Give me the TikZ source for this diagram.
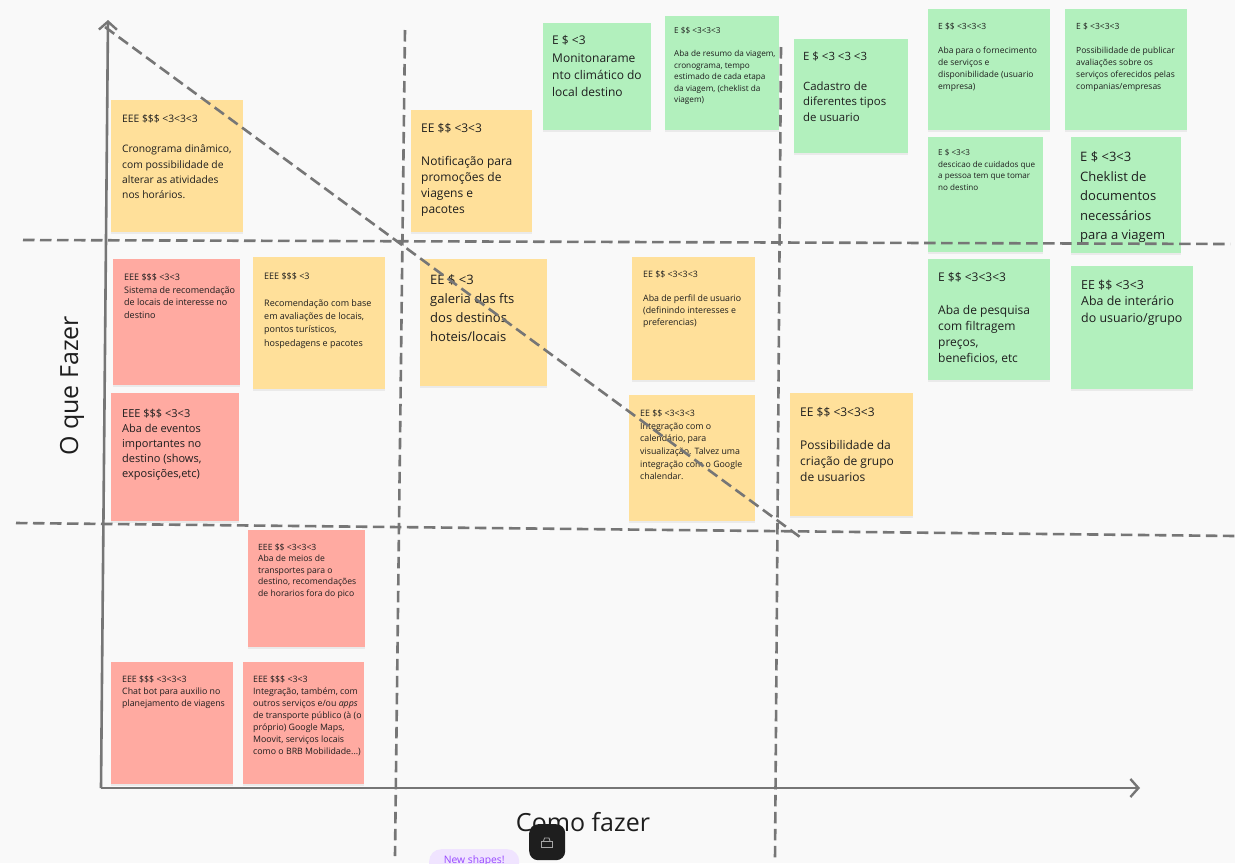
\documentclass[tikz,border=0pt]{standalone}
\usepackage{fontspec}
\setmainfont{Open Sans}
\usetikzlibrary{arrows.meta,shadows}
\definecolor{boardbg}{HTML}{F9F9F9}
\definecolor{notey}{HTML}{FFE09A}
\definecolor{noteg}{HTML}{B2F0BD}
\definecolor{noter}{HTML}{FFAAA1}
\definecolor{linegray}{HTML}{767676}
\definecolor{inkdark}{HTML}{1E1E1E}
\definecolor{pillbg}{HTML}{F0E4FF}
\definecolor{pillink}{HTML}{9747FF}
\tikzset{
  sticky/.style={anchor=north west,inner sep=0,outer sep=0,
    drop shadow={shadow xshift=0pt,shadow yshift=-2pt,opacity=0.06,fill=black}},
  yellownote/.style={sticky,fill=notey},
  greennote/.style={sticky,fill=noteg},
  rednote/.style={sticky,fill=noter},
  txt/.style 2 args={anchor=north west,inner sep=0,align=left,text=inkdark,yshift=-1.5pt,
    font=\fontsize{#1}{#2}\selectfont},
  dashline/.style={linegray,line width=2.6pt,dash pattern=on 11.5pt off 5.5pt},
  axisline/.style={linegray,line width=2.6pt,-{Straight Barb[length=8pt,width=18pt,line width=2.4pt]}},
}
\begin{document}
\begin{tikzpicture}[x=1pt,y=-1pt]
  \useasboundingbox (0,0) rectangle (1235,863);
  \fill[boardbg] (0,0) rectangle (1235,863);

  % yellow notes
  \node[yellownote,minimum width=132pt,minimum height=132pt] (cronograma) at (111,100) {};
  \node[txt={10.3}{15.2}] (cronogramatxt) at (122,113) {EEE \$\$\$ <3<3<3\\[15.2pt]Cronograma dinâmico,\\com possibilidade de\\alterar as atividades\\nos horários.};
  \node[yellownote,minimum width=121pt,minimum height=122pt] (notificacao) at (411,110) {};
  \node[txt={12}{16.1}] (notificacaotxt) at (421,122) {EE \$\$ <3<3\\[16.1pt]Notificação para\\promoções de\\viagens e\\pacotes};
  \node[yellownote,minimum width=132pt,minimum height=132pt] (recomendacao) at (253,257) {};
  \node[txt={9}{13.3}] (recomendacaotxt) at (264,271) {EEE \$\$\$ <3\\[13.3pt]Recomendação com base\\em avaliações de locais,\\pontos turísticos,\\hospedagens e pacotes};
  \node[yellownote,minimum width=127pt,minimum height=127pt] (galeria) at (420,259) {};
  \node[txt={13}{19}] (galeriatxt) at (430,273) {EE \$ <3\\galeria das fts\\dos destinos\\hoteis/locais};
  \node[yellownote,minimum width=123pt,minimum height=123pt] (perfil) at (632,257) {};
  \node[txt={8.8}{12}] (perfiltxt) at (643,269) {EE \$\$ <3<3<3\\[12pt]Aba de perfil de usuario\\(definindo interesses e\\preferencias)};
  \node[yellownote,minimum width=126pt,minimum height=126pt] (integracao) at (629,395) {};
  \node[txt={8.8}{12.7}] (integracaotxt) at (640,408) {EE \$\$ <3<3<3\\Integração com o\\calendário, para\\visualização. Talvez uma\\integração com o Google\\chalendar.};
  \node[yellownote,minimum width=123pt,minimum height=123pt] (grupo) at (790,393) {};
  \node[txt={12}{16.2}] (grupotxt) at (800,406) {EE \$\$ <3<3<3\\[16.2pt]Possibilidade da\\criação de grupo\\de usuarios};

  % green notes
  \node[greennote,minimum width=108pt,minimum height=107pt] (clima) at (543,23) {};
  \node[txt={12}{17.2}] (climatxt) at (552,34) {E \$ <3\\Monitonarame\\nto climático do\\local destino};
  \node[greennote,minimum width=114pt,minimum height=114pt] (resumo) at (665,16) {};
  \node[txt={8.2}{11.5}] (resumotxt) at (674,26) {E \$\$ <3<3<3\\[11.5pt]Aba de resumo da viagem,\\cronograma, tempo\\estimado de cada etapa\\da viagem, (cheklist da\\viagem)};
  \node[greennote,minimum width=114pt,minimum height=114pt] (cadastro) at (794,39) {};
  \node[txt={11.4}{15.2}] (cadastrotxt) at (803,50) {E \$ <3 <3 <3\\[15.2pt]Cadastro de\\diferentes tipos\\de usuario};
  \node[greennote,minimum width=122pt,minimum height=121pt] (fornecimento) at (928,9) {};
  \node[txt={8.5}{12}] (fornecimentotxt) at (938,21) {E \$\$ <3<3<3\\[12pt]Aba para o fornecimento\\de serviços e\\disponibilidade (usuario\\empresa)};
  \node[greennote,minimum width=122pt,minimum height=121pt] (avaliacoes) at (1065,9) {};
  \node[txt={8.5}{12}] (avaliacoestxt) at (1076,21) {E \$ <3<3<3\\[12pt]Possibilidade de publicar\\avaliações sobre os\\serviços oferecidos pelas\\companias/empresas};
  \node[greennote,minimum width=115pt,minimum height=115pt] (cuidados) at (928,137) {};
  \node[txt={8.1}{11.5}] (cuidadostxt) at (938,148) {E \$ <3<3\\descicao de cuidados que\\a pessoa tem que tomar\\no destino};
  \node[greennote,minimum width=110pt,minimum height=116pt] (documentos) at (1071,137) {};
  \node[txt={13}{19.6}] (documentostxt) at (1080,150) {E \$ <3<3\\Cheklist de\\documentos\\necessários\\para a viagem};
  \node[greennote,minimum width=122pt,minimum height=121pt] (pesquisa) at (928,259) {};
  \node[txt={12}{16.2}] (pesquisatxt) at (938,271) {E \$\$ <3<3<3\\[16.2pt]Aba de pesquisa\\com filtragem\\preços,\\beneficios, etc};
  \node[greennote,minimum width=122pt,minimum height=123pt] (itinerario) at (1071,266) {};
  \node[txt={12.4}{16.6}] (itinerariotxt) at (1081,278) {EE \$\$ <3<3\\Aba de interário\\do usuario/grupo};

  % red notes
  \node[rednote,minimum width=127pt,minimum height=126pt] (sistema) at (113,259) {};
  \node[txt={9}{12.6}] (sistematxt) at (124,272) {EEE \$\$\$ <3<3\\Sistema de recomendação\\de locais de interesse no\\destino};
  \node[rednote,minimum width=128pt,minimum height=128pt] (eventos) at (111,393) {};
  \node[txt={11}{15.1}] (eventostxt) at (122,407) {EEE \$\$\$ <3<3\\Aba de eventos\\importantes no\\destino (shows,\\exposições,etc)};
  \node[rednote,minimum width=117pt,minimum height=117pt] (transportes) at (248,530) {};
  \node[txt={8.6}{11.5}] (transportestxt) at (258,542) {EEE \$\$ <3<3<3\\Aba de meios de\\transportes para o\\destino, recomendações\\de horarios fora do pico};
  \node[rednote,minimum width=122pt,minimum height=122pt] (chatbot) at (111,662) {};
  \node[txt={8.8}{12}] (chatbottxt) at (122,674) {EEE \$\$\$ <3<3<3\\Chat bot para auxilio no\\planejamento de viagens};
  \node[rednote,minimum width=121pt,minimum height=122pt] (servicos) at (243,662) {};
  \node[txt={8.8}{12}] (servicostxt) at (253,674) {EEE \$\$\$ <3<3\\Integração, também, com\\outros serviços e/ou \emph{apps}\\de transporte público (à (o\\próprio) Google Maps,\\Moovit, serviços locais\\como o BRB Mobilidade...)};

  % axes
  \coordinate (origin) at (101,788);
  \coordinate (ytip) at (108,20);
  \coordinate (xtip) at (1140,788);
  \draw[axisline] (origin) -- (ytip);
  \draw[axisline] (origin) -- (xtip);
  \node[rotate=90,text=inkdark,font=\fontsize{25}{30}\selectfont] (quelabel) at (72,386) {O que Fazer};
  \node[text=inkdark,font=\fontsize{25}{30}\selectfont] (comolabel) at (583,822) {Como fazer};

  % dashed lines
  \coordinate (hupa) at (23,240);
  \coordinate (hupb) at (1230,244);
  \coordinate (hdowna) at (16,523);
  \coordinate (hdownb) at (1235,536);
  \coordinate (vlefta) at (405,30);
  \coordinate (vleftb) at (395,856);
  \coordinate (vrighta) at (781,47);
  \coordinate (vrightb) at (775,860);
  \coordinate (diaga) at (105,27);
  \coordinate (diagb) at (800,537);
  \draw[dashline] (hupa) -- (hupb);
  \draw[dashline] (hdowna) -- (hdownb);
  \draw[dashline] (vlefta) -- (vleftb);
  \draw[dashline] (vrighta) -- (vrightb);
  \draw[dashline] (diaga) -- (diagb);

  % toolbar bits at the bottom
  \node[anchor=north west,fill=pillbg,rounded corners=12pt,minimum width=90pt,minimum height=30pt,inner sep=0,text=pillink,font=\fontsize{10.3}{12}\selectfont,text depth=10pt,text height=8pt] (newshapes) at (429,849) {New shapes!};
  \node[anchor=north west,fill=inkdark,rounded corners=9pt,minimum width=36pt,minimum height=36pt,inner sep=0] (lockbtn) at (529,824) {};
  \draw[white!65!black,line width=0.8pt] (541.5,841) rectangle (552,847.5);
  \draw[white!65!black,line width=0.8pt] (543.5,841) -- (544.5,838) -- (549,838) -- (550,841);
\end{tikzpicture}
\end{document}
